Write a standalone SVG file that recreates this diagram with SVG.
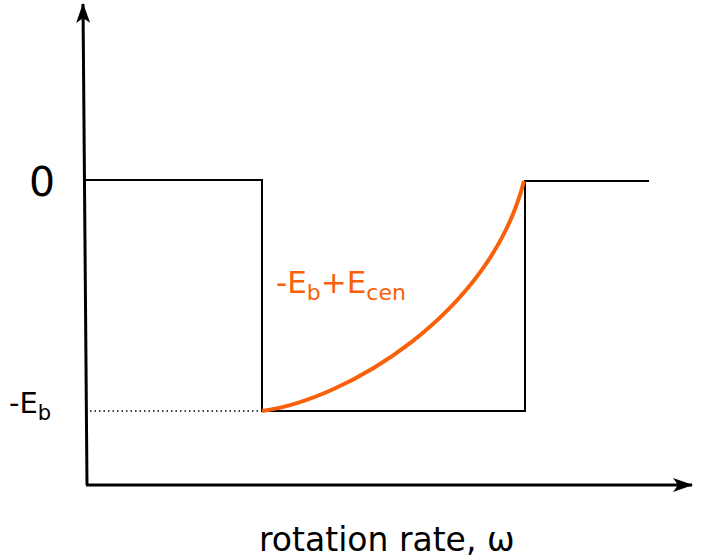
<svg xmlns="http://www.w3.org/2000/svg" width="711" height="560" viewBox="0 0 711 560">
<style>
.ax{stroke:#000;stroke-width:3;fill:none}
.ln{stroke:#000;stroke-width:2;fill:none}
.t{font-family:"DejaVu Sans",sans-serif;fill:#000}
.o{font-family:"DejaVu Sans",sans-serif;fill:#f8600a}
</style>
<defs>
<marker id="ar" viewBox="0 0 20 14" refX="19" refY="7" markerWidth="20" markerHeight="14" markerUnits="userSpaceOnUse" orient="auto">
<path d="M0,0 L20,7 L0,14 L5,7 Z" fill="#000"/>
</marker>
</defs>
<rect width="711" height="560" fill="#fff"/>
<g id="connectors">
<path class="ax" d="M87,485 L83,4" marker-end="url(#ar)"/>
<path class="ax" d="M86,485 L692,485" marker-end="url(#ar)"/>
<path class="ln" d="M85,180 L262,180 L262,411 L525,411 L525,181 L649,181"/>
<path d="M90,411 L260,411" stroke="#000" stroke-width="1.5" stroke-dasharray="1.5,3" fill="none"/>
<path d="M262,411 C345,400 490,315 524,181" stroke="#f8600a" stroke-width="4" fill="none"/>
</g>
<g id="label-zero"><text class="t" x="29" y="196" font-size="41">0</text></g>
<g id="label-eb"><text class="t" x="9" y="413" font-size="29">-E<tspan font-size="21" dy="7">b</tspan></text></g>
<g id="label-curve"><text class="o" x="276" y="293" font-size="31">-E<tspan font-size="22" dy="7">b</tspan><tspan dy="-7">+E</tspan><tspan font-size="22" dy="7">cen</tspan></text></g>
<g id="label-x"><text class="t" x="259" y="551" font-size="33">rotation rate, ω</text></g>
</svg>
